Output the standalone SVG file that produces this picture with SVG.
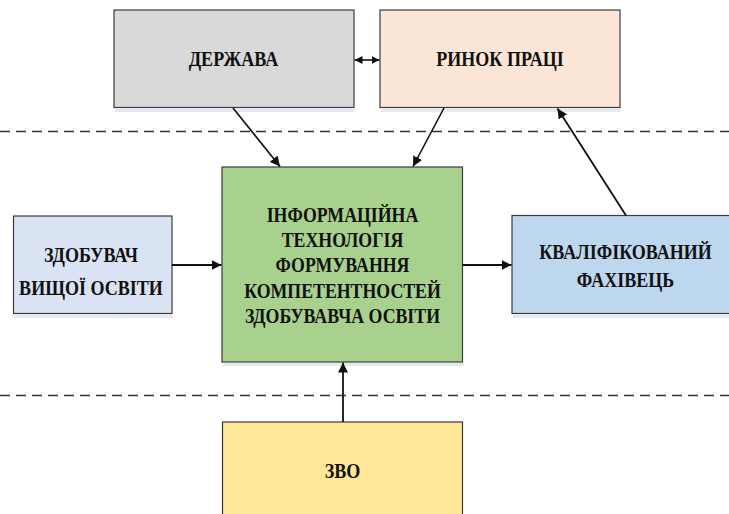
<svg xmlns="http://www.w3.org/2000/svg" width="729" height="514" viewBox="0 0 729 514">
<style>
.box{stroke:#3b3b3b;stroke-width:1.2}
.sh{fill:#c9d6e8;opacity:0.5}
.t{font-family:"Liberation Serif","Times New Roman",serif;font-weight:bold;font-size:22px;fill:#111;text-anchor:middle}
.dash{stroke:#333;stroke-width:1.5;stroke-dasharray:10 6;fill:none}
.c{stroke:#111;fill:none}
</style>
<defs>
<marker id="ah" viewBox="0 0 10 10" refX="10" refY="5" markerWidth="10" markerHeight="10" markerUnits="userSpaceOnUse" orient="auto-start-reverse">
<path d="M0,0 L10,5 L0,10 z" fill="#111"/>
</marker>
<marker id="ahs" viewBox="0 0 10 10" refX="10" refY="5" markerWidth="8" markerHeight="8" markerUnits="userSpaceOnUse" orient="auto-start-reverse">
<path d="M0,0 L10,5 L0,10 z" fill="#111"/>
</marker>
</defs>
<rect width="729" height="514" fill="#fff"/>
<line class="dash" x1="0" y1="131.5" x2="729" y2="131.5"/>
<line class="dash" x1="0" y1="395.5" x2="729" y2="395.5"/>

<g id="derzhava">
<rect class="sh" x="115" y="109" width="240" height="3"/>
<rect class="box" x="114" y="10" width="240" height="97.5" fill="#d9d9d9"/>
<text class="t" transform="translate(233.5,66) scale(0.82,1)" x="0" y="0">ДЕРЖАВА</text>
</g>
<g id="rynok">
<rect class="sh" x="381" y="109" width="240" height="3"/>
<rect class="box" x="380" y="10" width="240" height="97.5" fill="#fbe5d6"/>
<text class="t" transform="translate(500,66) scale(0.82,1)" x="0" y="0">РИНОК ПРАЦІ</text>
</g>
<g id="it">
<rect class="sh" x="223" y="363" width="241" height="3"/>
<rect class="box" x="222" y="167" width="240.5" height="195" fill="#a9d18e"/>
<g transform="translate(342.5,0) scale(0.81,1)">
<text class="t" x="0" y="221.7">ІНФОРМАЦІЙНА</text>
<text class="t" x="0" y="246.9">ТЕХНОЛОГІЯ</text>
<text class="t" x="0" y="272.2">ФОРМУВАННЯ</text>
<text class="t" x="0" y="297.6">КОМПЕТЕНТНОСТЕЙ</text>
<text class="t" x="0" y="322.8">ЗДОБУВАВЧА ОСВІТИ</text>
</g>
</g>
<g id="zdobuvach">
<rect class="sh" x="14" y="315" width="159" height="3"/>
<rect class="box" x="13.5" y="216" width="158.5" height="97.5" fill="#dae3f3"/>
<g transform="translate(91,0) scale(0.82,1)">
<text class="t" x="0" y="261.7">ЗДОБУВАЧ</text>
<text class="t" x="0" y="295">ВИЩОЇ ОСВІТИ</text>
</g>
</g>
<g id="fakhivets">
<rect class="sh" x="513" y="315" width="230" height="3"/>
<rect class="box" x="512" y="215.5" width="240" height="98" fill="#bdd7ee"/>
<g transform="translate(625.5,0) scale(0.82,1)">
<text class="t" x="0" y="259">КВАЛІФІКОВАНИЙ</text>
<text class="t" x="0" y="286.7">ФАХІВЕЦЬ</text>
</g>
</g>
<g id="zvo">
<rect class="box" x="222.5" y="422" width="240" height="100" fill="#ffe699"/>
<text class="t" transform="translate(342.5,478) scale(0.82,1)" x="0" y="0">ЗВО</text>
</g>

<g id="connectors">
<line class="c" stroke-width="1.6" x1="354.5" y1="60" x2="379.5" y2="60" marker-start="url(#ahs)" marker-end="url(#ahs)"/>
<line class="c" stroke-width="1.6" x1="233" y1="108" x2="280" y2="166.5" marker-end="url(#ah)"/>
<line class="c" stroke-width="1.6" x1="444" y1="108" x2="413" y2="166.5" marker-end="url(#ah)"/>
<line class="c" stroke-width="1.8" x1="626" y1="215.5" x2="557.5" y2="108.5" marker-end="url(#ah)"/>
<line class="c" stroke-width="2.2" x1="172" y1="265" x2="221.5" y2="265" marker-end="url(#ah)"/>
<line class="c" stroke-width="2.2" x1="462.5" y1="265" x2="511.5" y2="265" marker-end="url(#ah)"/>
<line class="c" stroke-width="1.8" x1="343" y1="422" x2="343" y2="362.5" marker-end="url(#ah)"/>
</g>
</svg>
